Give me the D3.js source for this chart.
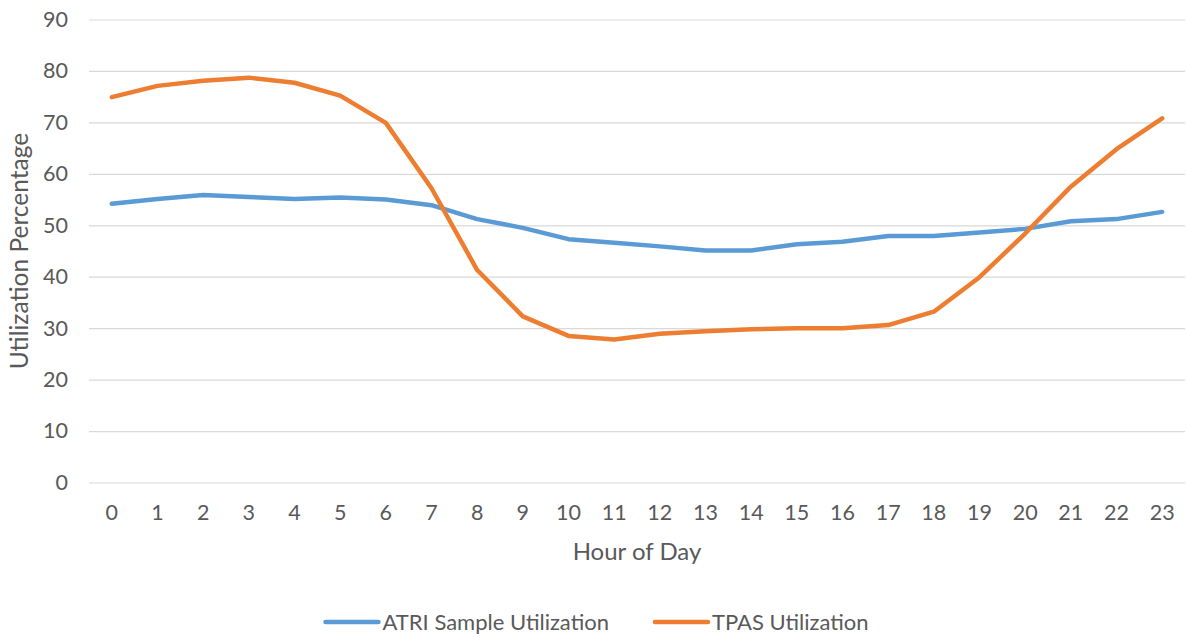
<!DOCTYPE html>
<html>
<head>
<meta charset="utf-8">
<script src="https://cdn.jsdelivr.net/npm/d3@7"></script>
<style>
  html, body { margin: 0; padding: 0; background: #fff; }
  svg { display: block; }
  text { font-family: Lato, "Open Sans", sans-serif; fill: #595959; }
</style>
</head>
<body>
<svg id="chart" width="1186" height="637"></svg>
<script>
const hours = ["0","1","2","3","4","5","6","7","8","9","10","11","12","13","14","15","16","17","18","19","20","21","22","23"];
const atriValues = [54.2, 55.1, 55.9, 55.5, 55.1, 55.4, 55.0, 53.9, 51.2, 49.5, 47.3, 46.6, 45.9, 45.1, 45.1, 46.3, 46.8, 47.9, 47.9, 48.6, 49.3, 50.8, 51.2, 52.6];
const tpasValues = [74.9, 77.1, 78.1, 78.7, 77.7, 75.2, 69.9, 57.2, 41.3, 32.3, 28.5, 27.8, 28.9, 29.4, 29.8, 30.0, 30.0, 30.6, 33.2, 39.9, 48.4, 57.5, 64.8, 70.8];
const yTicks = [0, 10, 20, 30, 40, 50, 60, 70, 80, 90];
const seriesNames = ["ATRI Sample Utilization", "TPAS Utilization"];
const seriesColors = ["#5B9BD5", "#ED7D31"];
const xTitle = "Hour of Day";
const yTitle = "Utilization Percentage";

const svg = d3.select("#chart");
const W = 1186, H = 637;
const m = { left: 89, right: 1, top: 19.5, bottom: 154.5 };
const x = d3.scaleBand().domain(hours).range([m.left, W - m.right]);
const y = d3.scaleLinear().domain([0, 90]).range([H - m.bottom, m.top]);

// gridlines
const yAxis = d3.axisLeft(y).tickValues(yTicks).tickSize(-(W - m.right - m.left)).tickPadding(21);
const gy = svg.append("g").attr("transform", `translate(${m.left},0)`).call(yAxis);
gy.select(".domain").remove();
gy.selectAll(".tick line").attr("stroke", "#D9D9D9").attr("stroke-width", 1.2);
gy.selectAll(".tick text").attr("font-size", 21.5).attr("fill", "#595959").style("font-family", "Lato, sans-serif");

// x axis
const xAxis = d3.axisBottom(x).tickSize(0).tickPadding(22);
const gx = svg.append("g").attr("transform", `translate(0,${H - m.bottom})`).call(xAxis);
gx.select(".domain").remove();
gx.selectAll(".tick text").attr("font-size", 21.5).attr("fill", "#595959").style("font-family", "Lato, sans-serif");

// lines
const series = [atriValues, tpasValues];
const line = d3.line()
  .x((d, i) => x(hours[i]) + x.bandwidth() / 2)
  .y(d => y(d));
series.forEach((vals, k) => {
  svg.append("path")
    .datum(vals)
    .attr("d", line)
    .attr("fill", "none")
    .attr("stroke", seriesColors[k])
    .attr("stroke-width", 4.5)
    .attr("stroke-linecap", "round")
    .attr("stroke-linejoin", "round");
});

// axis titles
svg.append("text")
  .attr("x", (m.left + W - m.right) / 2)
  .attr("y", 560)
  .attr("text-anchor", "middle")
  .attr("font-size", 24)
  .text(xTitle);

svg.append("text")
  .attr("transform", `translate(28,${(y(0) + y(90)) / 2}) rotate(-90)`)
  .attr("text-anchor", "middle")
  .attr("font-size", 24.5)
  .text(yTitle);

// legend
const leg = svg.append("g");
let cx = 0;
seriesNames.forEach((name, k) => {
  const g = leg.append("g").attr("transform", `translate(${cx},0)`);
  g.append("line").attr("x1", 0).attr("x2", 53).attr("y1", 0).attr("y2", 0)
    .attr("stroke", seriesColors[k]).attr("stroke-width", 4.5).attr("stroke-linecap", "round");
  const t = g.append("text").attr("x", 57).attr("y", 0).attr("dy", "0.35em")
    .attr("font-size", 22).text(name);
  const w = 57 + t.node().getComputedTextLength();
  cx += w + 46;
});
const totalW = cx - 46;
leg.attr("transform", `translate(${597 - totalW / 2},622)`);
</script>
</body>
</html>
